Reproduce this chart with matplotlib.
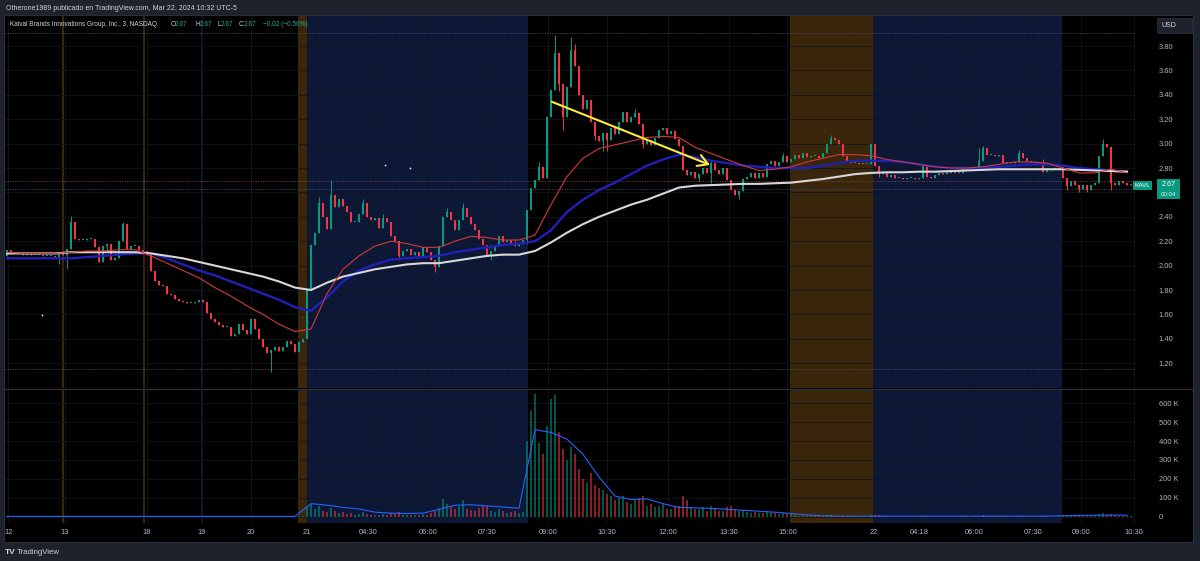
import numpy as np
import matplotlib

matplotlib.use("Agg")
import matplotlib.pyplot as plt
from matplotlib.lines import Line2D
from matplotlib.patches import Rectangle

plt.rcParams["font.family"] = ["Liberation Sans", "DejaVu Sans"]

W, H = 1200, 561

# one slot = 6 minutes of trading, prices in cents, volume in thousands
first_open = 208
closes = [
    213, 211, 210, 210, 209, 210, 209, 209, 209, 208,
    208, 208, 207, 210, 209, 214, 236, 222, 221, 221,
    222, 222, 215, 203, 216, 218, 205, 206, 220, 234,
    214, 216, 216, 213, 212, 209, 196, 187, 184, 183,
    177, 176, 173, 171, 170, 169, 169, 170, 172, 170,
    161, 156, 154, 151, 150, 150, 142, 144, 152, 147,
    144, 156, 148, 140, 133, 128, 131, 133, 130, 133,
    138, 136, 129, 137, 140, 180, 217, 227, 251, 240,
    230, 258, 248, 255, 249, 244, 236, 236, 242, 251,
    240, 237, 239, 231, 239, 236, 224, 220, 208, 212,
    214, 209, 211, 208, 215, 211, 205, 199, 216, 240,
    244, 237, 229, 237, 247, 240, 234, 229, 222, 217,
    208, 212, 217, 224, 219, 221, 218, 216, 218, 221,
    246, 264, 270, 281, 272, 322, 344, 374, 349, 322,
    346, 377, 364, 340, 328, 336, 318, 306, 302, 309,
    303, 313, 308, 318, 326, 318, 322, 325, 316, 300,
    303, 299, 305, 311, 313, 308, 310, 304, 298, 278,
    274, 277, 272, 275, 280, 276, 284, 278, 275, 280,
    270, 262, 258, 261, 271, 273, 276, 272, 276, 273,
    283, 286, 282, 285, 290, 285, 287, 291, 288, 292,
    289, 290, 290, 288, 292, 300, 305, 303, 300, 290,
    286, 284, 284, 283, 283, 283, 300, 282, 275, 276,
    273, 274, 272, 272, 271, 272, 272, 271, 272, 282,
    273, 272, 274, 276, 275, 277, 276, 277, 276, 279,
    280, 279, 281, 286, 296, 291, 291, 290, 291, 284,
    285, 284, 285, 292, 288, 286, 285, 284, 284, 277,
    278, 279, 279, 280, 272, 265, 269, 266, 263, 266,
    262, 266, 268, 290, 300, 297, 268, 266, 269, 268,
    266, 267,
]
wick_up = {16: 5, 29: 2, 78: 5, 81: 12, 89: 4, 94: 3, 110: 3, 114: 4, 127: 4,
           133: 4, 137: 15, 141: 10, 142: 5, 157: 3, 176: 2, 194: 2, 206: 2,
           243: 10, 244: 2, 253: 3, 259: 3, 264: 2, 274: 4}
wick_dn = {13: 6, 15: 12, 25: 5, 66: 15, 98: 3, 107: 4, 121: 3, 130: 3, 138: 6,
           139: 11, 147: 3, 149: 8, 150: 9, 159: 4, 173: 3, 176: 8, 183: 3,
           218: 2, 265: 3, 268: 3, 270: 2, 276: 6}
volume_k = [
    3, 1, 1, 1, 1, 2, 1, 1, 1, 1,
    1, 1, 1, 3, 1, 4, 6, 4, 2, 1,
    1, 1, 2, 3, 2, 2, 2, 1, 3, 4,
    3, 1, 1, 1, 1, 2, 3, 3, 2, 1,
    2, 1, 3, 1, 1, 1, 1, 1, 2, 1,
    2, 3, 1, 1, 1, 1, 2, 1, 2, 2,
    2, 2, 2, 2, 1, 2, 4, 2, 2, 2,
    2, 1, 2, 3, 4, 60, 70, 40, 55, 30,
    25, 45, 30, 20, 25, 15, 20, 12, 15, 25,
    15, 10, 12, 10, 15, 10, 20, 15, 25, 10,
    12, 8, 10, 8, 15, 10, 20, 30, 45, 95,
    70, 50, 40, 60, 90, 40, 35, 30, 45, 55,
    60, 30, 25, 40, 30, 20, 25, 30, 20, 25,
    400, 560, 650, 390, 330, 480, 620, 640, 450, 360,
    300, 370, 330, 250, 200, 180, 230, 170, 150, 140,
    120, 110, 90, 100, 110, 80, 70, 90, 100, 110,
    60, 70, 50, 60, 70, 40, 40, 50, 60, 110,
    90, 50, 40, 40, 50, 30, 60, 40, 30, 30,
    50, 60, 40, 30, 35, 25, 20, 25, 20, 20,
    30, 25, 20, 15, 20, 15, 15, 8, 5, 6,
    4, 3, 3, 4, 5, 9, 8, 5, 6, 8,
    5, 4, 3, 2, 2, 2, 8, 12, 8, 4,
    3, 3, 2, 2, 2, 2, 2, 2, 2, 6,
    4, 2, 3, 3, 2, 3, 2, 2, 2, 3,
    3, 2, 3, 6, 9, 5, 3, 3, 3, 5,
    3, 2, 3, 6, 4, 3, 2, 2, 2, 5,
    3, 2, 2, 3, 10, 9, 6, 6, 7, 5,
    6, 5, 5, 18, 22, 10, 16, 8, 5, 5,
    4, 5,
]

# moving averages, read every 4th slot
ma_step = 4
ma_fast = [
    2.11, 2.10, 2.10, 2.10, 2.11, 2.12, 2.12, 2.13, 2.13, 2.08,
    2.02, 1.96, 1.90, 1.82, 1.75, 1.67, 1.60, 1.52, 1.46, 1.48,
    1.77, 1.97, 2.08, 2.16, 2.20, 2.18, 2.15, 2.15, 2.20, 2.24,
    2.23, 2.21, 2.21, 2.25, 2.50, 2.73, 2.88, 2.96, 2.99, 3.02,
    3.05, 3.06, 3.05, 2.97, 2.92, 2.87, 2.82, 2.78, 2.79, 2.81,
    2.85, 2.88, 2.91, 2.91, 2.90, 2.87, 2.85, 2.83, 2.81, 2.80,
    2.80, 2.81, 2.83, 2.85, 2.85, 2.84, 2.80, 2.76, 2.76, 2.79,
    2.76,
]
ma_mid = [
    2.06, 2.06, 2.06, 2.06, 2.06, 2.07, 2.08, 2.09, 2.10, 2.10,
    2.06, 2.01, 1.96, 1.92, 1.87, 1.82, 1.77, 1.72, 1.66, 1.63,
    1.74, 1.87, 1.96, 2.01, 2.05, 2.06, 2.07, 2.08, 2.11, 2.13,
    2.15, 2.17, 2.18, 2.20, 2.29, 2.44, 2.54, 2.62, 2.68, 2.75,
    2.82, 2.87, 2.91, 2.89, 2.86, 2.84, 2.82, 2.81, 2.80, 2.80,
    2.80, 2.82, 2.84, 2.86, 2.86, 2.86, 2.85, 2.83, 2.81, 2.80,
    2.80, 2.80, 2.81, 2.82, 2.83, 2.83, 2.82, 2.80, 2.79, 2.78,
    2.77,
]
ma_slow = [
    2.10, 2.10, 2.10, 2.10, 2.11, 2.11, 2.11, 2.11, 2.11, 2.10,
    2.08, 2.06, 2.03, 2.00, 1.97, 1.94, 1.91, 1.87, 1.82, 1.80,
    1.86, 1.91, 1.94, 1.97, 1.99, 2.01, 2.02, 2.02, 2.04, 2.06,
    2.08, 2.09, 2.09, 2.12, 2.19, 2.27, 2.34, 2.40, 2.45, 2.50,
    2.54, 2.59, 2.64, 2.655, 2.66, 2.665, 2.67, 2.67, 2.675, 2.68,
    2.695, 2.71, 2.73, 2.75, 2.76, 2.765, 2.765, 2.77, 2.77, 2.775,
    2.78, 2.785, 2.79, 2.79, 2.79, 2.79, 2.79, 2.785, 2.78, 2.775,
    2.77,
]
vol_ma = [
    3, 3, 3, 3, 3, 3, 3, 3, 3, 3,
    3, 3, 3, 3, 3, 3, 3, 3, 3, 70,
    62, 50, 42, 25, 20, 18, 20, 40, 62, 64,
    58, 52, 46, 460, 445, 410, 330, 210, 110, 92,
    95, 70, 50, 48, 45, 40, 35, 30, 25, 18,
    10, 6, 4, 4, 4, 4, 4, 4, 4, 4,
    4, 4, 4, 4, 4, 4, 6, 8, 9, 10,
    9,
]

sessions = [(13.75, 14.3, "post"), (34.0, 34.6, "post"), (48.55, 48.95, "pre"),
            (72.75, 75.0, "post"), (75.0, 130.25, "pre"),
            (195.75, 216.5, "post"), (216.5, 263.75, "pre")]
x_ticks = [0.35, 14.5, 35, 48.75, 61, 75, 90.25, 105.25, 120, 135.25, 149.9,
           165.25, 180.5, 195.1, 216.75, 228, 241.75, 256.5, 268.5, 281.75]
x_labels = ["12", "13", "18", "19", "20", "21", "04:30", "06:00", "07:30", "09:00",
            "10:30", "12:00", "13:30", "15:00", "22", "04:18", "06:00", "07:30",
            "09:00", "10:30"]
levels = [(3.907, "#4a4e5a"), (2.693, "#7a4450"), (2.628, "#34508a"), (1.152, "#4a4e5a")]
stray_x = [8.75, 94.5, 100.75]
stray_y = [1.595, 2.825, 2.80]
arrow_from = (136.2, 3.343)
arrow_to = (175.75, 2.825)
last_price = "2.67"

UP, DN = "#089981", "#f23645"
TXT = "#b2b5be"
session_colors = {"pre": "#0c1836", "post": "#3a270b"}


def box(l, t, r, b):
    return [l / W, 1 - b / H, (r - l) / W, (b - t) / H]


def fx(px):
    return px / W


def fy(py):
    return 1 - py / H


fig = plt.figure(figsize=(W / 100, H / 100), dpi=100, facecolor="#1e222d")
fig.patches.append(Rectangle((fx(4), fy(542)), (1193 - 4) / W, (542 - 15) / H,
                             transform=fig.transFigure, facecolor="black",
                             edgecolor="#2a2e39", lw=0.8, zorder=-1))

ax = fig.add_axes(box(5, 16, 1135, 388))
axv = fig.add_axes(box(5, 389, 1135, 523), sharex=ax)
for a in (ax, axv):
    a.set_facecolor("black")
    for s in a.spines.values():
        s.set_visible(False)
    a.set_axisbelow(True)
    a.grid(True, color="#12151e", lw=0.6)
    a.yaxis.tick_right()
    a.tick_params(axis="both", length=0, labelsize=5.4, labelcolor=TXT)
    a.tick_params(axis="y", pad=17)
    for a0, b0, kind in sessions:
        a.axvspan(a0, b0, color=session_colors[kind], lw=0, zorder=0)

c = np.array(closes) / 100
o = np.r_[first_open / 100, c[:-1]]
x = np.arange(len(c))
hi = np.maximum(o, c) + np.array([wick_up.get(i, 0) for i in x]) / 100
lo = np.minimum(o, c) - np.array([wick_dn.get(i, 0) for i in x]) / 100
col = np.where(c >= o, UP, DN)
body = np.maximum(np.abs(c - o), 0.008)

ax.vlines(x, lo, hi, colors=col, lw=0.7, zorder=2)
ax.bar(x, body, bottom=np.minimum(o, c), width=0.6, color=col, lw=0, zorder=2)

xk = np.arange(len(ma_fast)) * ma_step
ax.plot(xk, ma_mid, color="#2020b8", lw=1.7, zorder=3)
ax.plot(xk, ma_slow, color="#d8d8d8", lw=1.5, zorder=3)
ax.plot(xk, ma_fast, color="#d03a3a", lw=0.8, zorder=4)
ax.plot(stray_x, stray_y, "o", ms=1.3, color="#e0e0e0", mew=0, zorder=3)

for lvl, lc in levels:
    ax.axhline(lvl, color=lc, lw=0.7, ls=(0, (1, 1.5)), zorder=1)

ax.annotate("", xy=arrow_to, xytext=arrow_from, zorder=5,
            arrowprops=dict(arrowstyle="->,head_length=0.6,head_width=0.35",
                            color="#ffeb3b", lw=1.5, shrinkA=0, shrinkB=0,
                            mutation_scale=12))

ax.set_xlim(-0.5, 282)
ax.set_ylim(0.997, 4.046)
yt = np.arange(1.2, 3.81, 0.2)
# the 2.60 label sits under the last-price badge, as in TradingView
ax.set_yticks(yt, ["" if abs(v - 2.6) < 0.01 else f"{v:.2f}" for v in yt])
ax.set_xticks(x_ticks)
ax.tick_params(axis="x", labelbottom=False)

vol = np.array(volume_k)
axv.bar(x, vol, width=0.6, color=col, alpha=0.55, lw=0, zorder=2)
axv.plot(xk, vol_ma, color="#2962ff", lw=0.8, zorder=3)
axv.set_ylim(-32, 674)
vt = np.arange(0, 601, 100)
axv.set_yticks(vt, ["0" if v == 0 else f"{v} K" for v in vt])
axv.set_xticks(x_ticks, x_labels)
axv.tick_params(axis="x", pad=4)

# pane separator
fig.add_artist(Line2D([fx(4), fx(1193)], [fy(388.5), fy(388.5)], color="#2a2e39",
                      lw=1.0, transform=fig.transFigure))

# header and legend
fig.text(fx(6), fy(8), "Otherone1989 publicado en TradingView.com, Mar 22, 2024 10:32 UTC-5",
         color="#d1d4dc", fontsize=5.0, va="center")
legend = [("Kaival Brands Innovations Group, Inc., 3, NASDAQ", 10, "#d1d4dc"),
          ("O", 171, "#d1d4dc"), (last_price, 175, "#22ab94"),
          ("H", 195, "#d1d4dc"), (last_price, 200, "#22ab94"),
          ("L", 217, "#d1d4dc"), (last_price, 220.5, "#22ab94"),
          ("C", 239, "#d1d4dc"), (last_price, 243.5, "#22ab94"),
          ("\u22120.02 (\u22120.56%)", 263, "#22ab94")]
for s, px, tc in legend:
    fig.text(fx(px), fy(24.5), s, color=tc, fontsize=4.7, va="center")

# USD box
fig.patches.append(Rectangle((fx(1157), fy(33)), 35 / W, 15 / H, transform=fig.transFigure,
                             facecolor="#1e222d", edgecolor="#2a2e39", lw=0.6, zorder=2))
fig.text(fx(1161), fy(25.5), "USD", color="#d1d4dc", fontsize=5.0, va="center", zorder=4)

# last price labels
fig.patches.append(Rectangle((fx(1133), fy(189.5)), 19 / W, 9 / H, transform=fig.transFigure,
                             facecolor=UP, lw=0, zorder=2))
fig.text(fx(1142.5), fy(185), "KAVL", color="white", fontsize=4.6, ha="center",
         va="center", zorder=4)
fig.patches.append(Rectangle((fx(1157), fy(199)), 23 / W, 20 / H, transform=fig.transFigure,
                             facecolor=UP, lw=0, zorder=2))
fig.text(fx(1168.5), fy(184), last_price, color="white", fontsize=5.2, ha="center",
         va="center", zorder=4)
fig.text(fx(1168.5), fy(194), "00:04", color="#dff5f0", fontsize=4.4, ha="center",
         va="center", zorder=4)

# footer
fig.text(fx(5), fy(552), "TV", color="#d1d4dc", fontsize=6.0, weight="bold", va="center")
fig.text(fx(17), fy(552), "TradingView", color="#d1d4dc", fontsize=5.6, va="center")

fig.savefig("out.png", dpi=100, facecolor=fig.get_facecolor())
